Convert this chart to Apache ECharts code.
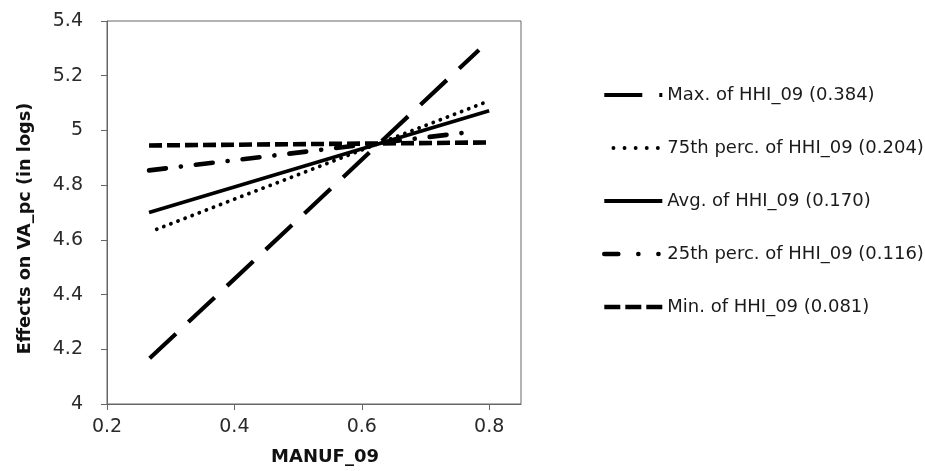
<!DOCTYPE html>
<html><head><meta charset="utf-8">
<script src="https://cdn.jsdelivr.net/npm/echarts@6/dist/echarts.min.js"></script>
<style>html,body{margin:0;padding:0;background:#fff}#c{width:925px;height:471px}</style>
</head><body><div id="c"></div>
<script>
const seriesNames = ["Max. of HHI_09 (0.384)","75th perc. of HHI_09 (0.204)","Avg. of HHI_09 (0.170)","25th perc. of HHI_09 (0.116)","Min. of HHI_09 (0.081)"];
const maxLine = [[0.267, 4.167],[0.784, 5.294]];
const p75Line = [[0.278, 4.639],[0.791, 5.100]];
const avgLine = [[0.266, 4.700],[0.800, 5.072]];
const p25Line = [[0.266, 4.854],[0.770, 4.994]];
const minLine = [[0.266, 4.945],[0.800, 4.956]];
const xTicks = [0.2, 0.4, 0.6, 0.8];
const yTicks = [4, 4.2, 4.4, 4.6, 4.8, 5, 5.2, 5.4];

const styles = [
  {width:4.2, type:[36,17], cap:'butt'},
  {width:3.8, type:[0.1,7.5], cap:'round'},
  {width:3.8, type:'solid', cap:'butt'},
  {width:4.6, type:[17,15,0.1,15], cap:'round'},
  {width:4.6, type:[13,5], cap:'butt'}
];
const legendStyles = [
  {width:4.2, type:[38,17], cap:'butt', off:0},
  {width:3.8, type:[0.1,11], cap:'round', off:2},
  {width:3.8, type:'solid', cap:'butt', off:0},
  {width:4.6, type:[14,20,0.1,20,0.1,40], cap:'round', off:0},
  {width:4.6, type:[16,5], cap:'butt', off:0}
];
const datas = [maxLine, p75Line, avgLine, p25Line, minLine];

const chart = echarts.init(document.getElementById('c'));
chart.setOption({
  animation:false,
  grid:{left:107, top:21, right:404, bottom:65, show:true, borderColor:'#666', borderWidth:1},
  legend:{
    orient:'vertical', left:602, top:86, padding:0, itemWidth:58, itemHeight:18, itemGap:35,
    textStyle:{fontFamily:'DejaVu Sans', fontSize:18, color:'#1a1a1a'},
    data: seriesNames.map((n,i)=>({
      name:n,
      itemStyle:{opacity:0},
      lineStyle:{color:'#000', width:legendStyles[i].width, type:legendStyles[i].type, cap:legendStyles[i].cap, dashOffset:legendStyles[i].off}
    }))
  },
  xAxis:{
    type:'value', min:0.2, max:0.85, interval:0.2,
    name:'MANUF_09', nameLocation:'middle', nameGap:44,
    nameTextStyle:{fontFamily:'DejaVu Sans', fontWeight:'bold', fontSize:18, color:'#111', padding:[0,0,0,22]},
    axisLine:{lineStyle:{color:'#666'}},
    axisTick:{inside:false, length:6, lineStyle:{color:'#666'}, customValues:xTicks},
    axisLabel:{margin:14, fontFamily:'DejaVu Sans', fontSize:19, color:'#2a2a2a', customValues:xTicks,
      formatter:v => v.toFixed(1)},
    splitLine:{show:false}
  },
  yAxis:{
    type:'value', min:4, max:5.4, interval:0.2,
    name:'Effects on VA_pc (in logs)', nameLocation:'middle', nameGap:73,
    nameTextStyle:{fontFamily:'DejaVu Sans', fontWeight:'bold', fontSize:17.7, color:'#111', padding:[0,32,0,0]},
    axisLine:{show:true, lineStyle:{color:'#666'}},
    axisTick:{show:true, inside:false, length:6, lineStyle:{color:'#666'}, customValues:yTicks},
    axisLabel:{margin:24, fontFamily:'DejaVu Sans', fontSize:19, color:'#2a2a2a', customValues:yTicks,
      formatter:v => String(+v.toFixed(1))},
    splitLine:{show:false}
  },
  series: seriesNames.map((n,i)=>({
    name:n, type:'line', symbol:'none', data:datas[i],
    lineStyle:{color:'#000', width:styles[i].width, type:styles[i].type, cap:styles[i].cap},
    itemStyle:{color:'#000'}
  }))
});
</script></body></html>
